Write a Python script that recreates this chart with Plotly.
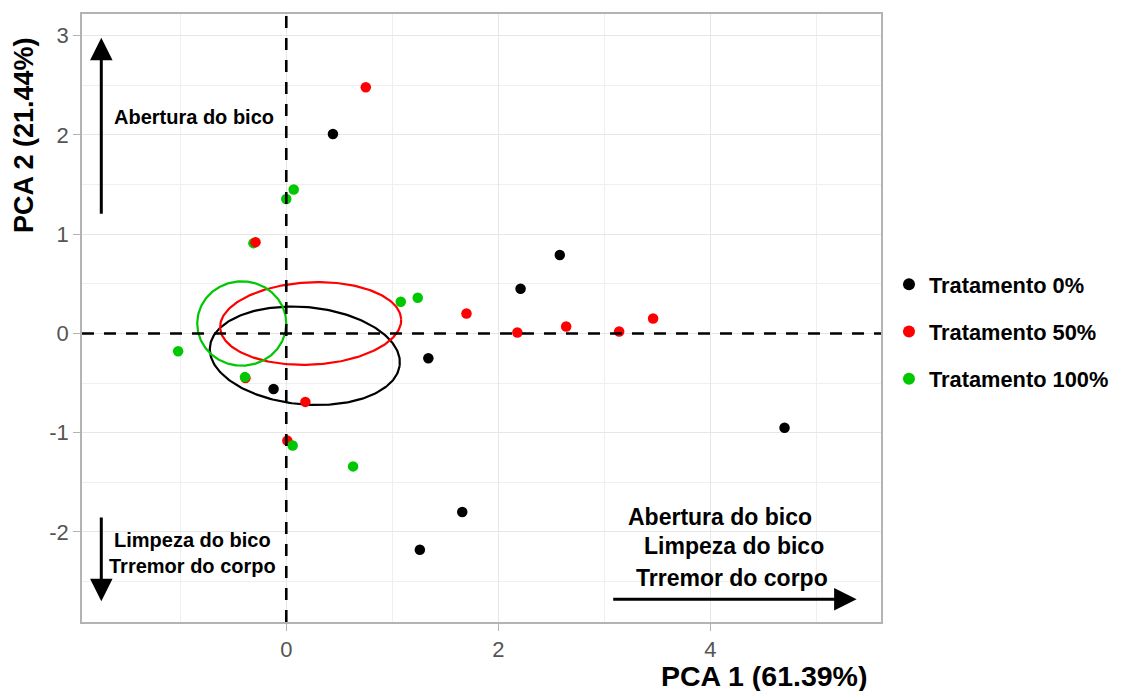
import numpy as np
import plotly.graph_objects as go

# PCA scores per treatment group
t0_x = [0.44, 2.58, 2.21, 1.34, -0.12, 1.66, 1.26, 4.70]
t0_y = [2.01, 0.79, 0.45, -0.25, -0.56, -1.80, -2.18, -0.95]

t50_x = [0.75, -0.29, 1.70, 2.18, 2.64, 3.14, 3.46, 0.18, 0.01, -0.385]
t50_y = [2.48, 0.92, 0.20, 0.01, 0.07, 0.02, 0.15, -0.69, -1.08, -0.45]

# green points drawn beneath the red layer
t100_low_x = [-0.31]
t100_low_y = [0.91]
t100_x = [0.07, 0.00, 1.08, 1.24, -1.02, -0.39, 0.06, 0.63]
t100_y = [1.45, 1.355, 0.32, 0.36, -0.18, -0.44, -1.13, -1.34]

group_names = ["Tratamento 0%", "Tratamento 50%", "Tratamento 100%"]
group_colors = ["#000000", "#FF0000", "#00C800"]

# confidence ellipses: centre x, centre y, semi-axis a, semi-axis b, angle (deg)
ell_cx = [0.175, 0.23, -0.42]
ell_cy = [-0.225, 0.10, 0.10]
ell_a = [0.90, 0.855, 0.42]
ell_b = [0.49, 0.415, 0.425]
ell_ang = [-6.0, 3.0, 0.0]

x_ticks = [0, 2, 4]
y_ticks = [-2, -1, 0, 1, 2, 3]

FONT = "Liberation Sans, Arial, sans-serif"

fig = go.Figure()

# ellipses
t = np.linspace(0, 2 * np.pi, 241)
for cx, cy, a, b, ang, col in zip(ell_cx, ell_cy, ell_a, ell_b, ell_ang, group_colors):
    th = np.deg2rad(ang)
    ex = cx + a * np.cos(th) * np.cos(t) - b * np.sin(th) * np.sin(t)
    ey = cy + a * np.sin(th) * np.cos(t) + b * np.cos(th) * np.sin(t)
    fig.add_trace(go.Scatter(x=ex, y=ey, mode="lines", line=dict(color=col, width=2.2),
                             showlegend=False, hoverinfo="skip"))

marker_size = 10.5
fig.add_trace(go.Scatter(x=t0_x, y=t0_y, mode="markers", name=group_names[0],
                         legendgroup="g0", legendrank=1,
                         marker=dict(color=group_colors[0], size=marker_size)))
fig.add_trace(go.Scatter(x=t100_low_x, y=t100_low_y, mode="markers", name=group_names[2],
                         legendgroup="g2", showlegend=False,
                         marker=dict(color=group_colors[2], size=marker_size)))
fig.add_trace(go.Scatter(x=t50_x, y=t50_y, mode="markers", name=group_names[1],
                         legendgroup="g1", legendrank=2,
                         marker=dict(color=group_colors[1], size=marker_size)))
fig.add_trace(go.Scatter(x=t100_x, y=t100_y, mode="markers", name=group_names[2],
                         legendgroup="g2", legendrank=3,
                         marker=dict(color=group_colors[2], size=marker_size)))

# reference lines through the origin
ref_line = dict(color="black", width=2.6, dash="12px,10px")
fig.add_hline(y=0, line=ref_line)
fig.add_vline(x=0, line=ref_line)

# loading direction arrows
arrows = [
    dict(x=-1.745, y=2.98, ax=-1.745, ay=1.19),
    dict(x=-1.745, y=-2.70, ax=-1.745, ay=-1.84),
    dict(x=5.38, y=-2.68, ax=3.07, ay=-2.68),
]
for ar in arrows:
    fig.add_annotation(x=ar["x"], y=ar["y"], ax=ar["ax"], ay=ar["ay"],
                       xref="x", yref="y", axref="x", ayref="y", text="",
                       showarrow=True, arrowhead=2, arrowsize=1.5, arrowwidth=3,
                       arrowcolor="black")

labels = [
    dict(x=-1.645, y=2.18, text="<b>Abertura do bico</b>", xanchor="left", size=20),
    dict(x=-0.883, y=-2.217, text="<b>Limpeza do bico</b><br><b>Trremor do corpo</b>",
         xanchor="center", size=20),
    dict(x=4.09, y=-1.846, text="<b>Abertura do bico</b>", xanchor="center", size=23),
    dict(x=4.22, y=-2.139, text="<b>Limpeza do bico</b>", xanchor="center", size=23),
    dict(x=4.20, y=-2.462, text="<b>Trremor do corpo</b>", xanchor="center", size=23),
]
for lb in labels:
    fig.add_annotation(x=lb["x"], y=lb["y"], xref="x", yref="y", text=lb["text"],
                       showarrow=False, xanchor=lb["xanchor"], yanchor="middle",
                       font=dict(family=FONT, size=lb["size"], color="black"))

# axis titles
fig.add_annotation(x=1.0, y=0, xref="paper", yref="paper", yshift=-54, xshift=-12,
                   text="<b>PCA 1 (61.39%)</b>", showarrow=False, xanchor="right",
                   yanchor="middle", font=dict(family=FONT, size=28.5, color="black"))
fig.add_annotation(x=0, y=1.0, xref="paper", yref="paper", xshift=-58, yshift=-21,
                   text="<b>PCA 2 (21.44%)</b>", showarrow=False, textangle=-90,
                   xanchor="center", yanchor="top", font=dict(family=FONT, size=27, color="black"))

grid_col = "#E6E6E6"
axis_common = dict(
    showgrid=True, gridcolor=grid_col, gridwidth=1.3,
    zeroline=False, showline=True, mirror=True, linecolor="#B3B3B3", linewidth=1.5,
    ticks="outside", ticklen=7, tickcolor="#B3B3B3", tickwidth=1.3,
    tickfont=dict(family=FONT, size=22, color="#555555"),
)
fig.update_xaxes(range=[-1.927, 5.61], tickmode="array", tickvals=x_ticks,
                 ticktext=[str(v) for v in x_ticks],
                 minor=dict(tickmode="array", tickvals=[-1, 1, 3, 5], showgrid=True,
                            gridcolor="#EFEFEF", gridwidth=1, ticks=""),
                 **axis_common)
fig.update_yaxes(range=[-2.908, 3.219], tickmode="array", tickvals=y_ticks,
                 ticktext=[str(v) for v in y_ticks],
                 minor=dict(tickmode="array", tickvals=[-2.5, -1.5, -0.5, 0.5, 1.5, 2.5],
                            showgrid=True, gridcolor="#EFEFEF", gridwidth=1, ticks=""),
                 **axis_common)

fig.update_layout(
    width=1126, height=691,
    margin=dict(l=82, r=245, t=14, b=69),
    paper_bgcolor="white", plot_bgcolor="white",
    font=dict(family=FONT),
    legend=dict(x=1.01, y=0.477, xanchor="left", yanchor="middle",
                font=dict(family=FONT, size=21.8, color="black"),
                tracegroupgap=16, itemsizing="constant", bgcolor="rgba(0,0,0,0)"),
)
# bold legend labels
fig.for_each_trace(lambda tr: tr.update(name=f"<b>{tr.name}</b>") if tr.name else None)

fig.write_html("out.html")
